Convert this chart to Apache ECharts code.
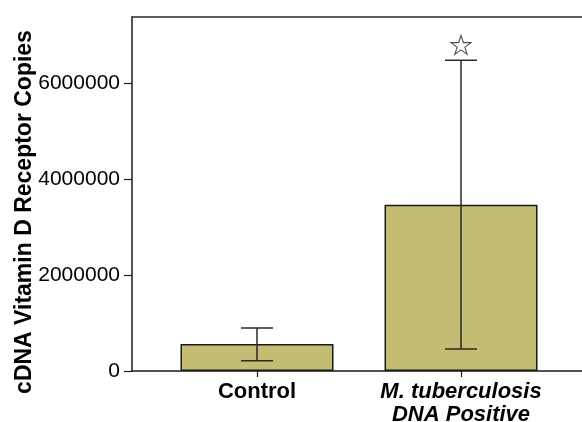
<!DOCTYPE html>
<html><head><meta charset="utf-8">
<script src="https://cdn.jsdelivr.net/npm/echarts@6/dist/echarts.min.js"></script>
<style>html,body{margin:0;padding:0;background:#fff}#c{width:582px;height:422px}</style>
</head><body><div id="c"></div>
<script>
var categories = ['Control', 'M. tuberculosis\nDNA Positive'];
var means = [560000, 3460000];
var errLow = [215000, 460000];
var errHigh = [896000, 6470000];
var starMarks = [[1, 6790000]];
var yTicks = [0, 2000000, 4000000, 6000000];

var font = "'Liberation Sans', Arial, Helvetica, sans-serif";
var chart = echarts.init(document.getElementById('c'), null, {renderer: 'canvas'});
var catPos = categories.map(function (c, i) { return i; });

chart.setOption({
  animation: false,
  grid: {left: 132, top: 17, right: 0, bottom: 51, containLabel: false, outerBoundsMode: 'none'},
  xAxis: [{
    type: 'value', min: -0.6127, max: 1.593,
    axisLine: {show: true, onZero: false, lineStyle: {color: '#1a1a1a', width: 1.5}},
    splitLine: {show: false},
    axisTick: {show: true, length: 6, lineStyle: {color: '#1a1a1a', width: 1.2}, customValues: catPos},
    axisLabel: {
      customValues: catPos, margin: 9, color: '#000',
      formatter: function (v) {
        var i = Math.round(v);
        if (i === 0) return '{n|' + categories[0] + '}';
        return categories[i].split('\n').map(function (s) { return '{i|' + s + '}'; }).join('\n');
      },
      rich: {
        n: {fontFamily: font, fontWeight: 'bold', fontSize: 22, lineHeight: 23, color: '#000'},
        i: {fontFamily: font, fontWeight: 'bold', fontStyle: 'italic', fontSize: 22, lineHeight: 23, color: '#000'}
      }
    }
  }, {
    type: 'value', position: 'top', min: -0.6127, max: 1.593,
    axisLine: {show: true, onZero: false, lineStyle: {color: '#2a2a2a', width: 1.5}},
    axisTick: {show: false}, axisLabel: {show: false}, splitLine: {show: false}
  }],
  yAxis: {
    type: 'value', min: 0, max: 7370000,
    name: 'cDNA Vitamin D Receptor Copies', nameLocation: 'middle', nameGap: 96, nameMoveOverlap: false,
    nameTextStyle: {fontFamily: font, fontWeight: 'bold', fontSize: 23, color: '#000', padding: [0, 36, 0, 0]},
    axisLine: {show: true, onZero: false, lineStyle: {color: '#1a1a1a', width: 1.5}},
    splitLine: {show: false},
    axisTick: {show: true, length: 8, lineStyle: {color: '#1a1a1a', width: 1.2}, customValues: yTicks},
    axisLabel: {customValues: yTicks, margin: 12, fontFamily: font, fontSize: 21, color: '#000',
      formatter: function (v) { return String(v); }}
  },
  series: [
    {
      type: 'bar', barWidth: 153,
      data: means.map(function (m, i) { return [i, m]; }),
      itemStyle: {color: '#c3bc72', borderColor: '#1a1a1a', borderWidth: 1.5},
      z: 2
    },
    {
      type: 'custom', z: 5,
      data: means.map(function (m, i) { return [i, errLow[i], errHigh[i]]; }),
      renderItem: function (params, api) {
        var x = api.value(0);
        var lo = api.coord([x, api.value(1)]);
        var hi = api.coord([x, api.value(2)]);
        var hw = 16;
        var style = {stroke: '#2a2a2a', lineWidth: 1.5};
        return {type: 'group', children: [
          {type: 'line', shape: {x1: lo[0], y1: lo[1], x2: hi[0], y2: hi[1]}, style: style},
          {type: 'line', shape: {x1: lo[0] - hw, y1: lo[1], x2: lo[0] + hw, y2: lo[1]}, style: style},
          {type: 'line', shape: {x1: hi[0] - hw, y1: hi[1], x2: hi[0] + hw, y2: hi[1]}, style: style}
        ]};
      }
    },
    {
      type: 'scatter', z: 6,
      symbol: 'path://M50,0 L61.2,34.5 L97.6,34.5 L68.2,55.9 L79.4,90.5 L50,69.1 L20.6,90.5 L31.8,55.9 L2.4,34.5 L38.8,34.5 Z',
      symbolSize: [20, 19],
      itemStyle: {color: '#fff', borderColor: '#222', borderWidth: 1.1},
      data: starMarks
    }
  ]
});
</script></body></html>
